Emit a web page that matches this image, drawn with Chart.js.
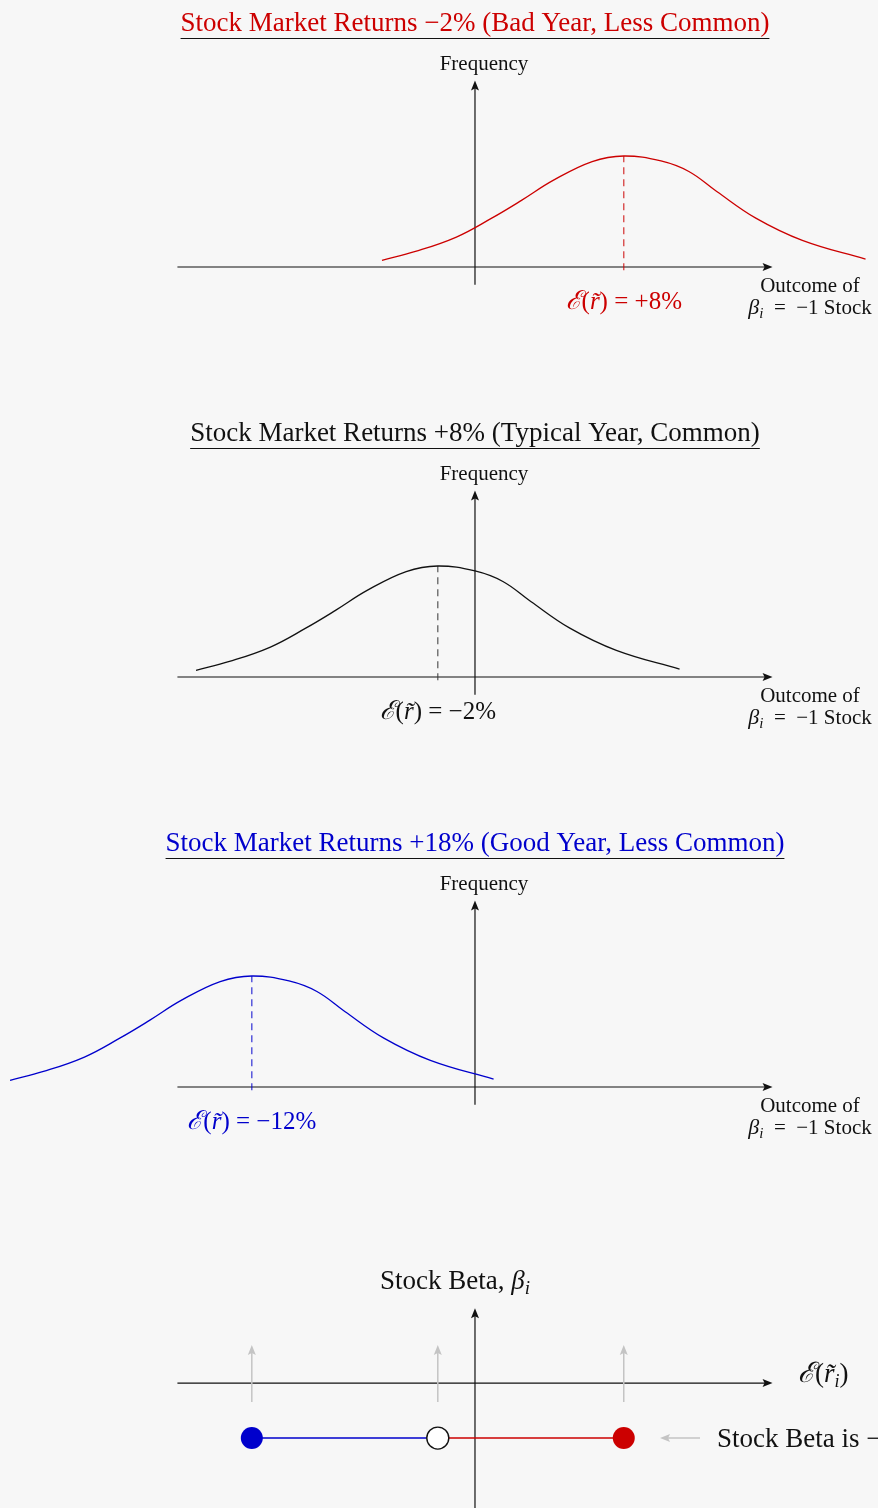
<!DOCTYPE html>
<html>
<head>
<meta charset="utf-8">
<script src="https://cdn.jsdelivr.net/npm/chart.js@4.4.1/dist/chart.umd.min.js"></script>
<style>
html, body { margin: 0; padding: 0; background: #f7f7f7; overflow: hidden; }
#wrap { position: relative; width: 878px; height: 1508px; overflow: hidden; }
.panel { position: absolute; left: 0; width: 878px; }
</style>
</head>
<body>
<div id="wrap">
  <div class="panel" style="top:0;height:410px"><canvas id="bad"></canvas></div>
  <div class="panel" style="top:410px;height:410px"><canvas id="typical"></canvas></div>
  <div class="panel" style="top:820px;height:410px"><canvas id="good"></canvas></div>
  <div class="panel" style="top:1230px;height:278px"><canvas id="beta"></canvas></div>
</div>
<script>
// Data (x = outcome in %, y = frequency, peak = 1)
const badYearX     = [-5, -3.2, -1, 0.9, 2.5, 4.2, 6.3, 8, 10, 11.5, 13, 15.1, 17.6, 21];
const typicalYearX = [-15, -13.2, -11, -9.1, -7.5, -5.8, -3.7, -2, 0, 1.5, 3, 5.1, 7.6, 11];
const goodYearX    = [-25, -23.2, -21, -19.1, -17.5, -15.8, -13.7, -12, -10, -8.5, -7, -4.9, -2.4, 1];
const frequency    = [0.06, 0.14, 0.27, 0.44, 0.6, 0.78, 0.95, 1.0, 0.955, 0.86, 0.68, 0.44, 0.24, 0.07];

const expectedReturns = [8, -2, -12];
const expectedLabels = ['+8%', '\u22122%', '\u221212%'];
const marketTitles = [
    'Stock Market Returns \u22122% (Bad Year, Less Common)',
    'Stock Market Returns +8% (Typical Year, Common)',
    'Stock Market Returns +18% (Good Year, Less Common)'
];
const stockBeta = [-1, -1, -1];

const FONT = '"Liberation Serif", "DejaVu Serif", serif';
const RED = '#cc0000', BLUE = '#0000cc', INK = '#111111', GREY = '#c4c4c4';

const X_MIN = -25.54, X_MAX = 21.67;

// helpers
const arrowHead = (ctx, x, y, dir, color) => {
    ctx.save();
    ctx.fillStyle = color;
    ctx.translate(x, y);
    ctx.rotate(dir);
    ctx.beginPath();
    ctx.moveTo(0, 0);
    ctx.lineTo(-10, -4);
    ctx.lineTo(-8, 0);
    ctx.lineTo(-10, 4);
    ctx.closePath();
    ctx.fill();
    ctx.restore();
};

const line = (ctx, x1, y1, x2, y2, color, w) => {
    ctx.save();
    ctx.strokeStyle = color;
    ctx.lineWidth = w || 1.2;
    ctx.beginPath();
    ctx.moveTo(x1, y1);
    ctx.lineTo(x2, y2);
    ctx.stroke();
    ctx.restore();
};

// runs: [{t, size, italic, dy}] drawn one after another
const drawRuns = (ctx, runs, x, y, align, color) => {
    ctx.save();
    ctx.fillStyle = color;
    ctx.textBaseline = 'alphabetic';
    ctx.textAlign = 'left';
    const fontOf = r => (r.italic ? 'italic ' : '') + r.size + 'px ' + FONT;
    let total = 0;
    runs.forEach(r => { ctx.font = fontOf(r); total += ctx.measureText(r.t).width; });
    let cx = align === 'center' ? x - total / 2 : x;
    runs.forEach(r => {
        ctx.font = fontOf(r);
        ctx.fillText(r.t, cx, y + (r.dy || 0));
        cx += ctx.measureText(r.t).width;
    });
    ctx.restore();
    return total;
};

const meanRuns = (txt) => [
    { t: '\u2130', size: 26, italic: true },
    { t: '(', size: 25 },
    { t: 'r\u0303', size: 25, italic: true },
    { t: ')', size: 25 },
    { t: ' = ' + txt, size: 25 }
];

const outcomeLabel = (ctx, cx, y) => {
    drawRuns(ctx, [{ t: 'Outcome of', size: 21 }], cx, y, 'center', INK);
    drawRuns(ctx, [
        { t: '\u03B2', size: 22, italic: true },
        { t: 'i', size: 15, italic: true, dy: 4 },
        { t: '  =  \u22121 Stock', size: 21 }
    ], cx, y + 22, 'center', INK);
};

const densityDecor = {
    id: 'densityDecor',
    beforeDatasetsDraw(chart, args, o) {
        const ctx = chart.ctx, xs = chart.scales.x, ys = chart.scales.y;
        const x0 = xs.getPixelForValue(0), y0 = ys.getPixelForValue(0);
        const left = xs.getPixelForValue(-16), right = xs.getPixelForValue(16);
        line(ctx, left, y0, right - 4, y0, INK);
        arrowHead(ctx, right, y0, 0, INK);
        const top = ys.getPixelForValue(1.68), bottom = ys.getPixelForValue(-0.16);
        line(ctx, x0, bottom, x0, top + 4, INK);
        arrowHead(ctx, x0, top, -Math.PI / 2, INK);
    },
    afterDatasetsDraw(chart, args, o) {
        const ctx = chart.ctx, xs = chart.scales.x, ys = chart.scales.y;
        const x0 = xs.getPixelForValue(0), y0 = ys.getPixelForValue(0);
        // title with underline
        const w = drawRuns(ctx, [{ t: o.title, size: 27 }], x0, 31, 'center', o.color);
        line(ctx, x0 - w / 2, 38.5, x0 + w / 2, 38.5, INK, 1.2);
        drawRuns(ctx, [{ t: 'Frequency', size: 21 }], x0 + 9, 70, 'center', INK);
        outcomeLabel(ctx, 810, y0 + 25);
        drawRuns(ctx, meanRuns(o.label), xs.getPixelForValue(o.mean), y0 + 42, 'center', o.color);
    }
};

const makeDensity = (id, i, xsData, color, dashColor) => {
    const curve = xsData.map((x, k) => ({ x: x, y: frequency[k] }));
    const mean = expectedReturns[i];
    new Chart(document.getElementById(id), {
        type: 'scatter',
        data: {
            datasets: [
                {
                    data: curve, showLine: true, borderColor: color, borderWidth: 1.3,
                    pointRadius: 0, tension: 0.4
                },
                {
                    data: [{ x: mean, y: -0.03 }, { x: mean, y: 1.0 }], showLine: true,
                    borderColor: dashColor, borderWidth: 1.3, borderDash: [7, 5], pointRadius: 0
                }
            ]
        },
        options: {
            responsive: true, maintainAspectRatio: false, animation: false,
            layout: { padding: 0, autoPadding: false },
            scales: {
                x: { type: 'linear', display: false, min: X_MIN, max: X_MAX },
                y: { display: false, min: -1.288, max: 2.405 }
            },
            plugins: {
                legend: { display: false }, tooltip: { enabled: false },
                densityDecor: { title: marketTitles[i], color: color, mean: mean, label: expectedLabels[i] }
            }
        },
        plugins: [densityDecor]
    });
};

makeDensity('bad', 0, badYearX, RED, 'rgba(204,0,0,0.75)');
makeDensity('typical', 1, typicalYearX, INK, 'rgba(60,60,60,0.8)');
makeDensity('good', 2, goodYearX, BLUE, 'rgba(0,0,204,0.75)');

// beta panel
const betaDecor = {
    id: 'betaDecor',
    beforeDatasetsDraw(chart) {
        const ctx = chart.ctx, xs = chart.scales.x, ys = chart.scales.y;
        const x0 = xs.getPixelForValue(0), y0 = ys.getPixelForValue(0);
        const left = xs.getPixelForValue(-16), right = xs.getPixelForValue(16);
        line(ctx, left, y0, right - 4, y0, INK);
        arrowHead(ctx, right, y0, 0, INK);
        const top = ys.getPixelForValue(1.36);
        line(ctx, x0, chart.height, x0, top + 4, INK);
        arrowHead(ctx, x0, top, -Math.PI / 2, INK);
        // grey arrows lifting each outcome
        expectedReturns.forEach(v => {
            const px = xs.getPixelForValue(v);
            const yb = ys.getPixelForValue(-0.345), yt = ys.getPixelForValue(0.69);
            line(ctx, px, yb, px, yt + 4, GREY, 1.5);
            arrowHead(ctx, px, yt, -Math.PI / 2, GREY);
        });
        const yl = ys.getPixelForValue(-1);
        const ax1 = xs.getPixelForValue(12.1), ax2 = xs.getPixelForValue(9.95);
        line(ctx, ax1, yl, ax2 + 4, yl, GREY, 1.5);
        arrowHead(ctx, ax2, yl, Math.PI, GREY);
    },
    afterDatasetsDraw(chart) {
        const ctx = chart.ctx, xs = chart.scales.x, ys = chart.scales.y;
        const y0 = ys.getPixelForValue(0);
        drawRuns(ctx, [
            { t: 'Stock Beta, ', size: 27 },
            { t: '\u03B2', size: 27, italic: true },
            { t: 'i', size: 19, italic: true, dy: 5 }
        ], 455, 59, 'center', INK);
        drawRuns(ctx, [
            { t: '\u2130', size: 28, italic: true },
            { t: '(', size: 27 },
            { t: 'r\u0303', size: 27, italic: true },
            { t: 'i', size: 18, italic: true, dy: 5 },
            { t: ')', size: 27 }
        ], 798, y0 - 1, 'left', INK);
        drawRuns(ctx, [{ t: 'Stock Beta is \u22121', size: 27 }], 717, ys.getPixelForValue(-1) + 9, 'left', INK);
    }
};

new Chart(document.getElementById('beta'), {
    type: 'scatter',
    data: {
        datasets: [
            {
                order: 0,
                data: expectedReturns.map((x, k) => ({ x: x, y: stockBeta[k] })),
                pointRadius: 11, pointHoverRadius: 11, pointBorderWidth: [0, 1.4, 0],
                pointBackgroundColor: [RED, '#ffffff', BLUE],
                pointBorderColor: [RED, INK, BLUE]
            },
            {
                order: 1,
                data: [{ x: expectedReturns[2], y: stockBeta[2] }, { x: expectedReturns[1], y: stockBeta[1] }],
                showLine: true, borderColor: BLUE, borderWidth: 1.5, pointRadius: 0
            },
            {
                order: 2,
                data: [{ x: expectedReturns[1], y: stockBeta[1] }, { x: expectedReturns[0], y: stockBeta[0] }],
                showLine: true, borderColor: RED, borderWidth: 1.5, pointRadius: 0
            }
        ]
    },
    options: {
        responsive: true, maintainAspectRatio: false, animation: false,
        layout: { padding: 0, autoPadding: false },
        scales: {
            x: { type: 'linear', display: false, min: X_MIN, max: X_MAX },
            y: { display: false, min: -2.27, max: 2.78 }
        },
        plugins: { legend: { display: false }, tooltip: { enabled: false } }
    },
    plugins: [betaDecor]
});
</script>
</body>
</html>
